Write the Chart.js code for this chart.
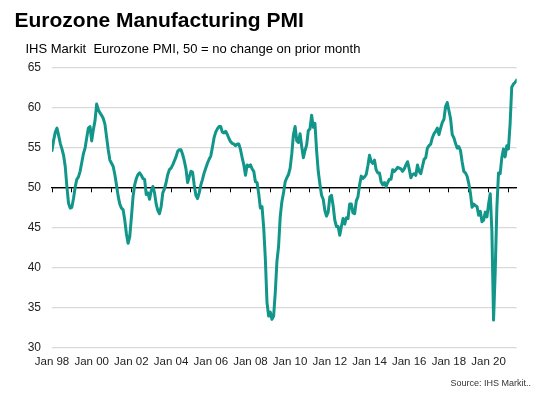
<!DOCTYPE html>
<html lang="en">

<head>
    <meta charset="UTF-8">
    <meta name="viewport" content="width=device-width, initial-scale=1.0">
    <style>
        body { margin: 0; background: #fff; }
        #wrap { position: relative; width: 540px; height: 398px; font-family: "Liberation Sans", Arial, sans-serif; }
        #wrap canvas { position: absolute; left: 0; top: 0; }
        .txt { position: absolute; white-space: pre; color: #000; }
        #title { left: 14.5px; top: 9px; font-size: 21px; line-height: 21px; font-weight: bold; }
        #sub { left: 25.5px; top: 42px; font-size: 13px; line-height: 13px; }
        #src { right: 9px; top: 379px; font-size: 9px; line-height: 9px; color: #333; }
    </style>
</head>

<body>
    <div id="wrap">
        <canvas id="myChart" width="540" height="398"></canvas>
        <div class="txt" id="title">Eurozone Manufacturing PMI</div>
        <div class="txt" id="sub">IHS Markit  Eurozone PMI, 50 = no change on prior month</div>
        <div class="txt" id="src">Source: IHS Markit..</div>
    </div>

    <script src="https://cdn.jsdelivr.net/npm/chart.js"></script>

    <script>
        // monthly PMI, Jan 1998 .. Jun 2021
        const pmi = [
            54.6, 55.9, 56.9, 57.4, 56.5, 55.5, 54.8, 54.0, 52.6, 50.1, 48.0, 47.4, // 1998
            47.5, 48.6, 50.0, 51.0, 51.3, 52.0, 53.1, 54.2, 54.9, 56.2, 57.4, 57.6, // 1999
            55.8, 57.2, 58.3, 60.4, 59.7, 59.3, 59.0, 58.6, 57.9, 56.3, 54.7, 53.4, // 2000
            53.0, 52.6, 51.6, 50.3, 48.9, 47.9, 47.4, 47.2, 45.9, 44.2, 43.0, 43.8, // 2001
            46.2, 48.8, 50.3, 51.1, 51.6, 51.8, 51.5, 51.1, 51.0, 49.1, 49.3, 48.5, // 2002
            49.6, 50.1, 49.3, 47.9, 47.1, 46.7, 47.6, 49.3, 49.8, 50.6, 51.6, 52.2, // 2003
            52.4, 52.8, 53.3, 53.8, 54.5, 54.7, 54.7, 54.1, 53.3, 52.3, 50.6, 51.3, // 2004
            52.0, 51.9, 50.3, 49.0, 48.6, 49.3, 50.3, 51.0, 51.8, 52.4, 53.0, 53.5, // 2005
            53.9, 55.0, 56.2, 56.9, 57.3, 57.6, 57.6, 56.9, 56.8, 57.0, 56.6, 56.1, // 2006
            55.7, 55.5, 55.4, 55.2, 55.4, 55.4, 54.7, 53.7, 52.8, 51.5, 52.8, 52.6, // 2007
            52.8, 52.3, 52.0, 50.7, 50.6, 49.2, 47.4, 47.6, 45.0, 41.1, 35.6, 33.9, // 2008
            34.4, 33.5, 33.9, 36.8, 40.7, 42.6, 46.3, 48.2, 49.3, 50.7, 51.2, 51.6, // 2009
            52.4, 54.2, 56.6, 57.6, 55.8, 55.6, 56.7, 55.1, 53.7, 54.6, 55.3, 57.1, // 2010
            57.3, 59.0, 57.5, 58.0, 54.6, 52.0, 50.4, 49.0, 48.5, 47.1, 46.4, 46.9, // 2011
            48.8, 49.0, 47.7, 45.9, 45.1, 45.1, 44.0, 45.1, 46.1, 45.4, 46.2, 46.1, // 2012
            47.9, 47.9, 46.8, 46.7, 48.3, 48.8, 50.3, 51.4, 51.1, 51.3, 51.6, 52.7, // 2013
            54.0, 53.2, 53.0, 53.4, 52.2, 51.8, 51.8, 50.7, 50.3, 50.6, 50.1, 50.6, // 2014
            51.0, 51.0, 52.2, 52.0, 52.2, 52.5, 52.4, 52.3, 52.0, 52.3, 52.8, 53.2, // 2015
            52.3, 51.2, 51.6, 51.7, 51.5, 52.8, 52.0, 51.7, 52.6, 53.5, 53.7, 54.9, // 2016
            55.2, 55.4, 56.2, 56.7, 57.0, 57.4, 56.6, 57.4, 58.1, 58.5, 60.1, 60.6, // 2017
            59.6, 58.6, 56.6, 56.2, 55.5, 54.9, 55.1, 54.6, 53.2, 52.0, 51.8, 51.4, // 2018
            50.5, 49.3, 47.5, 47.9, 47.7, 47.6, 46.5, 47.0, 45.7, 45.9, 46.9, 46.3, // 2019
            47.9, 49.2, 44.5, 33.4, 39.4, 47.4, 51.8, 51.7, 53.7, 54.8, 53.8, 55.2, // 2020
            54.8, 57.9, 62.5, 62.9, 63.1, 63.4                                      // 2021
        ];

        // one label every 24 months, starting Jan 98
        const tickLabels = ['Jan 98', 'Jan 00', 'Jan 02', 'Jan 04', 'Jan 06', 'Jan 08',
            'Jan 10', 'Jan 12', 'Jan 14', 'Jan 16', 'Jan 18', 'Jan 20'];

        const yTicks = { min: 30, max: 65, step: 5 };

        const font = '"Liberation Sans", Arial, sans-serif';
        const lineColour = '#12968a';
        const ctx = document.getElementById('myChart');

        window.myChart = new Chart(ctx, {
            type: 'line',
            data: {
                datasets: [{
                    label: 'Eurozone Manufacturing PMI',
                    data: pmi.map((v, i) => ({ x: i, y: v })),
                    xAxisID: 'x',
                    yAxisID: 'y',
                    borderColor: lineColour,
                    borderWidth: 3,
                    borderJoinStyle: 'round',
                    borderCapStyle: 'round',
                    pointRadius: 0,
                    tension: 0
                }]
            },
            options: {
                responsive: false,
                animation: false,
                layout: { padding: { top: 67.3, right: 23.3, bottom: 0, left: 0 } },
                plugins: {
                    legend: { display: false },
                    tooltip: { enabled: false }
                },
                scales: {
                    x: {
                        type: 'linear',
                        min: 0,
                        max: pmi.length - 1,
                        grid: { display: false, drawTicks: false },
                        border: { display: false },
                        ticks: {
                            stepSize: 12,
                            includeBounds: false,
                            autoSkip: false,
                            maxRotation: 0,
                            minRotation: 0,
                            padding: 7.5,
                            color: '#222',
                            font: { family: font, size: 11.5 },
                            callback: (v) => (v % 24 === 0 ? tickLabels[v / 24] : '')
                        },
                        afterFit: (s) => { s.height = 50.7; }
                    },
                    // axis line with yearly tick marks, crossing at 50
                    x50: {
                        type: 'linear',
                        axis: 'x',
                        position: { y: 50 },
                        min: 0,
                        max: pmi.length - 1,
                        ticks: { display: false, stepSize: 12, includeBounds: false, autoSkip: false },
                        grid: { drawOnChartArea: false, drawTicks: true, tickLength: 4, tickColor: '#000', tickWidth: 1 },
                        border: { display: true, color: '#000', width: 1.3 }
                    },
                    y: {
                        min: yTicks.min,
                        max: yTicks.max,
                        grid: {
                            color: (c) => (c.tick && c.tick.value === 50 ? '#000' : '#d9d9d9'),
                            lineWidth: 1.3,
                            drawTicks: false
                        },
                        border: { display: false },
                        ticks: {
                            stepSize: yTicks.step,
                            padding: 11,
                            color: '#222',
                            font: { family: font, size: 12 }
                        },
                        afterFit: (s) => { s.width = 52; }
                    }
                }
            }
        });
    </script>
</body>

</html>
